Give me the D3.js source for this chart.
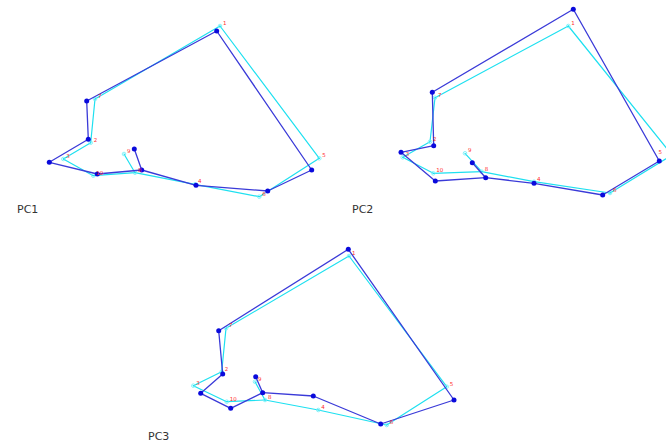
<!DOCTYPE html>
<html>
<head>
<meta charset="utf-8">
<script src="https://cdn.jsdelivr.net/npm/d3@7/dist/d3.min.js"></script>
<style>
  html, body { margin: 0; padding: 0; background: #fff; }
  svg { display: block; }
</style>
</head>
<body>
<svg id="chart" width="666" height="446"></svg>
<script>
// Landmark labels (outline points A..J) and the outline connections between them
const landmarkLabels = ["1", "5", "6", "4", "8", "9", "10", "3", "2", "7"];
const links = [[9, 0], [0, 1], [1, 2], [2, 3], [3, 4], [4, 5], [4, 6], [6, 7], [7, 8], [8, 9]];
const panelNames = ["PC1", "PC2", "PC3"];

// Shape coordinates per component: deformed shape (dark blue) and reference shape (cyan)
const pc1Shape = [[0.367, 0.79], [1.317, -0.60], [0.877, -0.81], [0.16, -0.753], [-0.383, -0.60],
                  [-0.457, -0.39], [-0.827, -0.64], [-1.307, -0.523], [-0.917, -0.293], [-0.933, 0.09]];
const pc1Ref   = [[0.40, 0.84], [1.393, -0.483], [0.793, -0.867], [0.15, -0.743], [-0.45, -0.627],
                  [-0.56, -0.44], [-0.867, -0.657], [-1.167, -0.49], [-0.893, -0.327], [-0.85, 0.11]];

const pc2Shape = [[0.433, 1.007], [1.293, -0.51], [0.727, -0.85], [0.04, -0.733], [-0.443, -0.677],
                  [-0.577, -0.527], [-0.947, -0.71], [-1.29, -0.423], [-0.963, -0.357], [-0.977, 0.177]];
const pc2Ref   = [[0.383, 0.84], [1.42, -0.45], [0.80, -0.83], [0.04, -0.717], [-0.483, -0.617],
                  [-0.65, -0.433], [-0.967, -0.633], [-1.273, -0.473], [-1.0, -0.317], [-0.95, 0.123]];

const pc3Shape = [[0.283, 0.857], [1.34, -0.65], [0.607, -0.89], [-0.067, -0.61], [-0.573, -0.577],
                  [-0.643, -0.417], [-0.893, -0.733], [-1.193, -0.583], [-0.973, -0.39], [-1.013, 0.043]];
const pc3Ref   = [[0.29, 0.79], [1.267, -0.517], [0.667, -0.90], [-0.017, -0.75], [-0.55, -0.65],
                  [-0.65, -0.467], [-0.933, -0.667], [-1.267, -0.507], [-0.983, -0.367], [-0.94, 0.067]];

const width = 666;
const svg = d3.select("#chart");

// Panel frames: centre of the shape space and where the title sits
const panels = [
  { name: panelNames[0], shape: pc1Shape, ref: pc1Ref, cx: 180, cy: 110, tx: 17,  ty: 213 },
  { name: panelNames[1], shape: pc2Shape, ref: pc2Ref, cx: 530, cy: 110, tx: 352, ty: 213 },
  { name: panelNames[2], shape: pc3Shape, ref: pc3Ref, cx: 320, cy: 335, tx: 148, ty: 440 }
];

const unit = 100;

panels.forEach(p => {
  const x = d3.scaleLinear().domain([-1, 1]).range([p.cx - unit, p.cx + unit]);
  const y = d3.scaleLinear().domain([-1, 1]).range([p.cy + unit, p.cy - unit]);
  const g = svg.append("g");

  // reference outline (cyan)
  g.selectAll("line.ref").data(links).join("line")
    .attr("class", "ref")
    .attr("x1", d => x(p.ref[d[0]][0])).attr("y1", d => y(p.ref[d[0]][1]))
    .attr("x2", d => x(p.ref[d[1]][0])).attr("y2", d => y(p.ref[d[1]][1]))
    .attr("stroke", "#1ee0f0").attr("stroke-width", 1.2).attr("stroke-linecap", "round");

  g.selectAll("circle.refpt").data(p.ref).join("circle")
    .attr("class", "refpt")
    .attr("cx", d => x(d[0])).attr("cy", d => y(d[1])).attr("r", 1.8)
    .attr("fill", "none").attr("stroke", "#6ff0f8").attr("stroke-width", 0.8);

  // deformed outline (dark blue)
  g.selectAll("line.shape").data(links).join("line")
    .attr("class", "shape")
    .attr("x1", d => x(p.shape[d[0]][0])).attr("y1", d => y(p.shape[d[0]][1]))
    .attr("x2", d => x(p.shape[d[1]][0])).attr("y2", d => y(p.shape[d[1]][1]))
    .attr("stroke", "#3a3ad8").attr("stroke-width", 1.3).attr("stroke-linecap", "round");

  g.selectAll("circle.shapept").data(p.shape).join("circle")
    .attr("class", "shapept")
    .attr("cx", d => x(d[0])).attr("cy", d => y(d[1])).attr("r", 2.5)
    .attr("fill", "#0a0adc");

  // landmark numbers beside the reference points (flipped left near the right edge)
  g.selectAll("text.lab").data(p.ref).join("text")
    .attr("class", "lab")
    .each(function (d) {
      const px = x(d[0]);
      const flip = px + 12 > width;
      d3.select(this)
        .attr("x", flip ? Math.min(px, width) - 4 : px + 3)
        .attr("text-anchor", flip ? "end" : "start");
    })
    .attr("y", d => y(d[1]) - 1)
    .attr("font-family", "DejaVu Sans, sans-serif").attr("font-size", 5.5)
    .attr("fill", "#ff2a2a")
    .text((d, i) => landmarkLabels[i]);

  // panel title
  svg.append("text")
    .attr("x", p.tx).attr("y", p.ty)
    .attr("font-family", "DejaVu Sans, sans-serif").attr("font-size", 11)
    .attr("fill", "#333")
    .text(p.name);
});
</script>
</body>
</html>
